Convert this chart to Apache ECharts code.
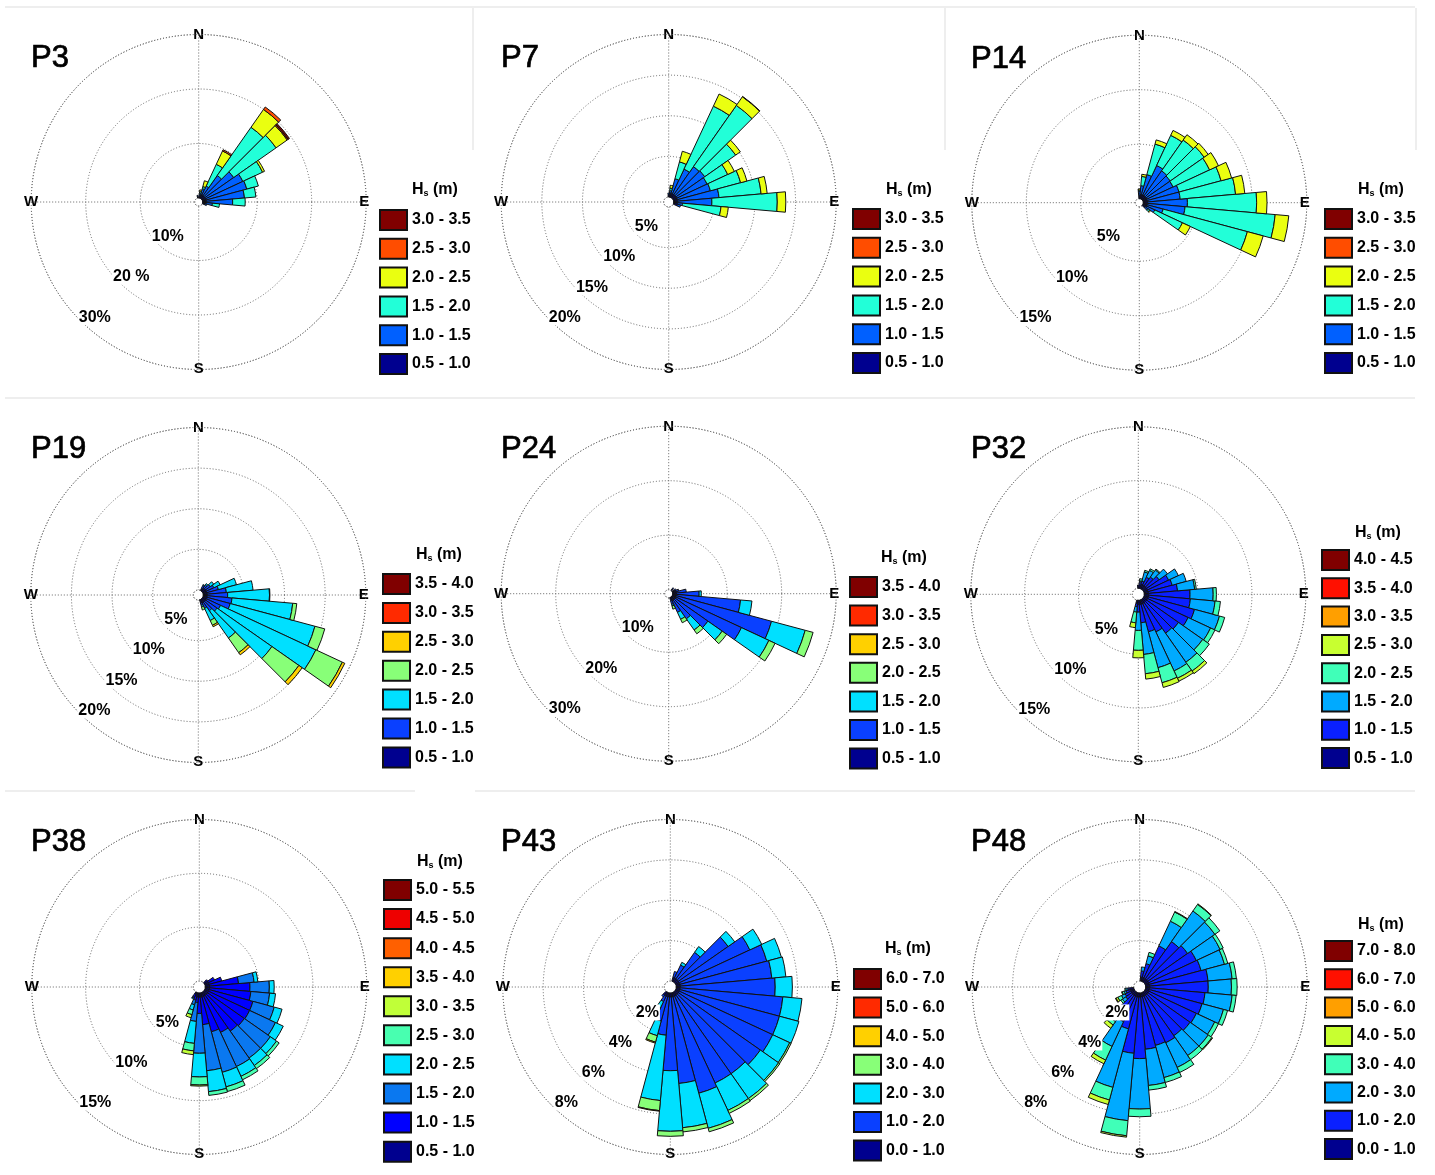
<!DOCTYPE html>
<html>
<head>
<meta charset="utf-8">
<title>Wave roses</title>
<script src="https://cdn.jsdelivr.net/npm/echarts@6/dist/echarts.min.js"></script>
<style>
html, body { margin: 0; padding: 0; background: #fff; }
#main { width: 1435px; height: 1175px; }
</style>
</head>
<body>
<div id="main"></div>
<script>
// 36 direction bins, clockwise from north
var directions = ['0','10','20','30','40','50','60','70','80','90','100','110','120','130','140','150','160','170',
  '180','190','200','210','220','230','240','250','260','270','280','290','300','310','320','330','340','350'];
var compass = { 0: 'N', 90: 'E', 180: 'S', 270: 'W' };

// Hs classes, lowest first
var bands05_35 = ['0.5 - 1.0','1.0 - 1.5','1.5 - 2.0','2.0 - 2.5','2.5 - 3.0','3.0 - 3.5'];
var bands05_40 = ['0.5 - 1.0','1.0 - 1.5','1.5 - 2.0','2.0 - 2.5','2.5 - 3.0','3.0 - 3.5','3.5 - 4.0'];
var bands05_45 = ['0.5 - 1.0','1.0 - 1.5','1.5 - 2.0','2.0 - 2.5','2.5 - 3.0','3.0 - 3.5','3.5 - 4.0','4.0 - 4.5'];
var bands05_55 = ['0.5 - 1.0','1.0 - 1.5','1.5 - 2.0','2.0 - 2.5','2.5 - 3.0','3.0 - 3.5','3.5 - 4.0','4.0 - 4.5','4.5 - 5.0','5.0 - 5.5'];
var bands0_7 = ['0.0 - 1.0','1.0 - 2.0','2.0 - 3.0','3.0 - 4.0','4.0 - 5.0','5.0 - 6.0','6.0 - 7.0'];
var bands0_8 = ['0.0 - 1.0','1.0 - 2.0','2.0 - 3.0','3.0 - 4.0','4.0 - 5.0','5.0 - 6.0','6.0 - 7.0','7.0 - 8.0'];

// jet style colours
var colors6 = ['#00008f','#0060ff','#22ffd8','#eaff10','#ff4d00','#800000'];
var colors7 = ['#00008f','#0a40ff','#00e0ff','#88ff78','#ffd000','#ff2a00','#800000'];
var colors8 = ['#00008f','#0a20ff','#00aaff','#40ffb8','#c8ff30','#ff9f00','#ff1000','#800000'];
var colors10 = ['#00008f','#0000ff','#0a78f0','#00e0ff','#48ffb0','#c0ff38','#ffd000','#ff6000','#ee0000','#800000'];

// ring values and their labels
var P3_ticks = [10, 20, 30];    var P3_labels = ['10%', '20 %', '30%'];
var P7_ticks = [5, 10, 15, 20]; var P7_labels = ['5%', '10%', '15%', '20%'];
var P14_ticks = [5, 10, 15];    var P14_labels = ['5%', '10%', '15%'];
var P19_ticks = [5, 10, 15, 20]; var P19_labels = ['5%', '10%', '15%', '20%'];
var P24_ticks = [10, 20, 30];   var P24_labels = ['10%', '20%', '30%'];
var P32_ticks = [5, 10, 15];    var P32_labels = ['5%', '10%', '15%'];
var P38_ticks = [5, 10, 15];    var P38_labels = ['5%', '10%', '15%'];
var P43_ticks = [2, 4, 6, 8];   var P43_labels = ['2%', '4%', '6%', '8%'];
var P48_ticks = [2, 4, 6, 8];   var P48_labels = ['2%', '4%', '6%', '8%'];

// each row: direction, then % of time in each Hs class, lowest first
var P3_rows = [
  [350, .3, .2],
  [10, .5, .4, .3, .3],
  [20, .7, 1.1, .4, 1.1],
  [30, .7, 1.8, 4.4, 2.7, .25],
  [40, .7, 4.5, 10.8, 4, .55],
  [50, .7, 6.4, 9.5, 2.5, .2, .3],
  [60, .7, 7.5, 4, .4],
  [70, .7, 7.7, 2.2],
  [80, .7, 7, 2.1],
  [90, .7, 4.8, 2.3],
  [100, .6, 1.2, 1.3],
  [110, .5, .3]
];
var P7_rows = [
  [0, .3, .2],
  [10, .5, .3, .3, .35],
  [20, .5, 1.85, 2.15, 1.35],
  [30, .5, 3.35, 8.55, 1.65],
  [40, .5, 4.2, 9.2, 1.3, .05],
  [50, .5, 4.3, 4.65, .7],
  [60, .5, 4.1, 2.8, .9],
  [70, .5, 4.2, 3.85, .8],
  [80, .5, 5.1, 5.2, .75],
  [90, .5, 4.2, 8.05, 1.05],
  [100, .5, .6, 4.75, .9],
  [110, .5, .4]
];
var P14_rows = [
  [0, .3, .4, .1, .1],
  [10, .4, .8, .85, .2],
  [20, .4, 1.9, 2.9, .4],
  [30, .4, 3, 3.05, .5],
  [40, .4, 2.8, 3.45, .6],
  [50, .4, 2.7, 3.8, .45],
  [60, .4, 2.65, 3.7, .9],
  [70, .4, 3, 4, 1],
  [80, .4, 3, 5.1, .85],
  [90, .4, 3.65, 6.35, .95],
  [100, .4, 3.45, 8.3, 1.25],
  [110, .4, 1.5, 8, 1.5],
  [120, .4, .8, 2.8, .8],
  [130, .3, .3, .2, .1]
];
var P19_rows = [
  [30, .3, .4, .1],
  [40, .4, .5, .2],
  [50, .5, .7, .5],
  [60, .5, 1, .85],
  [70, .5, 1.45, 2.3],
  [80, .5, 2.35, 3.3],
  [90, .5, 2.5, 5.15, .05],
  [100, .5, 3.05, 7.5, .5],
  [110, .5, 2.95, 10.8, 1.25],
  [120, .5, 1.9, 12.95, 3.6, .33],
  [130, .5, 1.7, 8.25, 4.05, .5],
  [140, .5, 1.25, 4.1, 2.2, .33],
  [150, .5, .7, 1.65, .65, .2],
  [160, .4, .3, .2, .4]
];
var P24_rows = [
  [40, .4, .2],
  [60, .5, .3],
  [70, .6, .6],
  [80, .7, 1.8],
  [90, .7, 4.15, .4],
  [100, .7, 11.8, 2.1],
  [110, .7, 18.1, 6.4, 1.5],
  [120, .7, 13.3, 5.55, 1.25],
  [130, .7, 7.35, 3.2, 1],
  [140, .7, 4.2, 2.5, .85],
  [150, .7, 2.35, 1.4, .7],
  [160, .6, .7, .3, .6]
];
var P32_rows = [
  [0, .2, .1],
  [10, .3, .3, .1, .2],
  [20, .4, .3, .9, .15],
  [30, .4, .8, .7, .15],
  [40, .4, 1, .8, .1],
  [50, .4, 1.4, .95],
  [60, .4, 2.15, 1],
  [70, .4, 2.3, 1.35],
  [80, .4, 2.7, 1.6, .15],
  [90, .4, 3.85, 2.15, .3],
  [100, .4, 3.9, 2.3, .5],
  [110, .4, 4.45, 2.4, .5],
  [120, .4, 4.15, 2.3, .45],
  [130, .4, 3.6, 2.75, .75],
  [140, .4, 3.45, 3.3, 1, .3],
  [150, .4, 2.9, 4, .75, .3],
  [160, .4, 2.65, 3.45, 1.45, .45],
  [170, .4, 1.7, 2.95, 1.8, .5],
  [180, .4, .7, 1.7, 1.85, .7],
  [190, .3, .3, .5, 1, .45]
];
var P38_rows = [
  [50, .3, .1],
  [60, .4, .6],
  [70, .4, 1.2],
  [80, .4, 2.7, 1.45, .35],
  [90, .4, 3.75, 1.8, .45],
  [100, .4, 3.85, 1.75, .55],
  [110, .4, 4.2, 2.05, .75],
  [120, .4, 4.2, 2.65, .8],
  [130, .4, 4.15, 2.95, .7, .3],
  [140, .4, 4.05, 3.05, .85, .35],
  [150, .4, 3.7, 3.5, 1, .35],
  [160, .4, 3.35, 3.9, 1.4, .45],
  [170, .4, 2.55, 4.3, 1.95, .35],
  [180, .4, 1.5, 3.7, 2.2, .75, .1],
  [190, .4, .5, 1.75, 2.05, .7, .35],
  [200, .3, .4, .45, .5, .45, .3],
  [210, .2, .3, .1, .1]
];
var P43_rows = [
  [20, .2, .3],
  [30, .2, .7, .15],
  [40, .2, 1.6, .35],
  [50, .2, 3, .4],
  [60, .2, 3.85, .65],
  [70, .2, 4.45, .75],
  [80, .2, 4.55, .7],
  [90, .2, 4.7, .85],
  [100, .2, 5.1, .95],
  [110, .2, 5.1, 1],
  [120, .2, 5.1, .93, .08],
  [130, .2, 4.95, 1.1, .08],
  [140, .2, 4.75, 1.5, .13],
  [150, .2, 4.75, 1.5, .16],
  [160, .2, 4.95, 1.8, .18],
  [170, .2, 4.3, 2.2, .21],
  [180, .2, 3.65, 3, .25],
  [190, .2, 1.9, 3.25, .5, .03],
  [200, .2, 1.25, .75, .33, .05],
  [210, .2, .3, .35, .25],
  [220, .2, .1]
];
var P48_rows = [
  [10, .2, .3, .2],
  [20, .2, .7, .4, .18],
  [30, .2, 1.75, 1.35, .5, .03],
  [40, .2, 2.25, 1.85, .4, .03],
  [50, .2, 2.4, 1.65, .3],
  [60, .2, 2.6, 1.3, .17],
  [70, .2, 2.65, 1.2, .17],
  [80, .2, 2.9, 1.2, .21],
  [90, .2, 2.9, 1.15, .28],
  [100, .2, 2.75, 1.35, .2],
  [110, .2, 2.7, 1.1, .21],
  [120, .2, 2.6, 1, .21],
  [130, .2, 2.55, 1.1, .22, .04],
  [140, .2, 2.45, 1.2, .25],
  [150, .2, 2.55, 1.35, .28],
  [160, .2, 2.5, 1.65, .25],
  [170, .2, 2.6, 1.8, .23],
  [180, .2, 3.05, 2.5, .38],
  [190, .2, 2.8, 3.35, .75, .07],
  [200, .2, 1.65, 3, .65, .23],
  [210, .2, 1.4, 1.35, .75, .2],
  [220, .2, .75, .85, .2, .2],
  [230, .2, .35, .2, .1],
  [240, .2, .3, .2, .2, .1, .03],
  [250, .2, .2, .1, .1, .03],
  [260, .2, .1, .1, .05]
];

var font = '"Liberation Sans", Arial, sans-serif';

// layout of the nine roses, positions in px
var panels = [
  { name: 'P3',  cx: 198.7, cy: 202,  r: 167.5, hole: 4, max: 30, ticks: P3_ticks,  labels: P3_labels,  rows: P3_rows,  bands: bands05_35, colors: colors6,  titleX: 31,  titleY: 43,  legX: 379, legY: 209, legGap: 28.8, hsX: 412, hsY: 181 },
  { name: 'P7',  cx: 668.7, cy: 202,  r: 167.5, hole: 5, max: 20, ticks: P7_ticks,  labels: P7_labels,  rows: P7_rows,  bands: bands05_35, colors: colors6,  titleX: 501, titleY: 43,  legX: 852, legY: 208, legGap: 28.8, hsX: 886, hsY: 181 },
  { name: 'P14', cx: 1139.3, cy: 202.7, r: 167.5, hole: 4, max: 15, ticks: P14_ticks, labels: P14_labels, rows: P14_rows, bands: bands05_35, colors: colors6,  titleX: 971, titleY: 44,  legX: 1324, legY: 208, legGap: 28.8, hsX: 1358, hsY: 181 },
  { name: 'P19', cx: 198.3, cy: 595,  r: 167.5, hole: 5, max: 20, ticks: P19_ticks, labels: P19_labels, rows: P19_rows, bands: bands05_40, colors: colors7,  titleX: 31,  titleY: 434, legX: 382, legY: 573, legGap: 28.9, hsX: 416, hsY: 546 },
  { name: 'P24', cx: 668.7, cy: 593.7, r: 167.5, hole: 4, max: 30, ticks: P24_ticks, labels: P24_labels, rows: P24_rows, bands: bands05_40, colors: colors7,  titleX: 501, titleY: 434, legX: 849, legY: 576, legGap: 28.6, hsX: 881, hsY: 549 },
  { name: 'P32', cx: 1138.3, cy: 594.3, r: 167.5, hole: 6, max: 15, ticks: P32_ticks, labels: P32_labels, rows: P32_rows, bands: bands05_45, colors: colors8,  titleX: 971, titleY: 434, legX: 1321, legY: 549, legGap: 28.3, hsX: 1355, hsY: 524 },
  { name: 'P38', cx: 199.3, cy: 987,  r: 167.5, hole: 6, max: 15, ticks: P38_ticks, labels: P38_labels, rows: P38_rows, bands: bands05_55, colors: colors10, titleX: 31,  titleY: 827, legX: 383, legY: 879, legGap: 29.07, hsX: 417, hsY: 853 },
  { name: 'P43', cx: 670.3, cy: 987,  r: 167.5, hole: 6, max: 8,  ticks: P43_ticks, labels: P43_labels, rows: P43_rows, bands: bands0_7,  colors: colors7,  titleX: 501, titleY: 827, legX: 853, legY: 968, legGap: 28.6, hsX: 885, hsY: 940 },
  { name: 'P48', cx: 1139.7, cy: 987, r: 167.5, hole: 6, max: 8,  ticks: P48_ticks, labels: P48_labels, rows: P48_rows, bands: bands0_8,  colors: colors8,  titleX: 971, titleY: 827, legX: 1324, legY: 940, legGap: 28.3, hsX: 1358, hsY: 916 }
];

var polar = [], radiusAxis = [], angleAxis = [], series = [], legend = [], title = [];
var gridLine = { color: '#666', type: [1, 2], width: 1 };

panels.forEach(function (p, i) {
  var gridIndex = i * 2, barIndex = i * 2 + 1;
  var center = [p.cx, p.cy];

  // rings, spokes and compass letters
  polar.push({ center: center, radius: [p.hole, p.r] });
  radiusAxis.push({
    polarIndex: gridIndex, type: 'value', min: 0, max: p.max, interval: p.ticks[0],
    axisLine: { show: false }, axisTick: { show: false }, axisLabel: { show: false },
    splitLine: { show: true, lineStyle: gridLine }
  });
  angleAxis.push({
    polarIndex: gridIndex, type: 'value', min: 0, max: 360, interval: 90, startAngle: 90, clockwise: true,
    axisLine: { show: true, lineStyle: gridLine },
    axisTick: { show: false },
    splitLine: { show: true, lineStyle: gridLine },
    axisLabel: {
      show: true, margin: -8, color: '#000', fontFamily: font, fontWeight: 'bold', fontSize: 15,
      backgroundColor: '#fff', padding: [0, 1],
      formatter: function (v) { return compass[v] || ''; }
    }
  });

  // the bars get their own polar, bins centred on the directions
  polar.push({ center: center, radius: [p.hole, p.r] });
  radiusAxis.push({ polarIndex: barIndex, type: 'value', min: 0, max: p.max, show: false });
  angleAxis.push({ polarIndex: barIndex, type: 'category', data: directions, startAngle: 95, clockwise: true, show: false });

  var legendNames = [];
  p.bands.forEach(function (band, b) {
    var values = directions.map(function () { return null; });
    p.rows.forEach(function (row) {
      if (row[b + 1]) values[directions.indexOf(String(row[0]))] = row[b + 1];
    });
    var name = p.name + '|' + band;
    legendNames.unshift(name);
    series.push({
      name: name, type: 'bar', coordinateSystem: 'polar', polarIndex: barIndex, stack: p.name,
      barCategoryGap: '0%', z: 3, data: values, silent: true,
      itemStyle: { color: p.colors[b], borderColor: '#111', borderWidth: 1 }
    });
  });

  legend.push({
    orient: 'vertical', left: p.legX, top: p.legY, padding: 0, selectedMode: false,
    itemWidth: 27, itemHeight: 20, itemGap: p.legGap - 22, icon: 'rect',
    data: legendNames,
    textStyle: { color: '#000', fontFamily: font, fontWeight: 'bold', fontSize: 16 },
    formatter: function (n) { return n.split('|')[1]; }
  });

  // percent labels sit just inside their ring, towards the south west
  series.push({
    type: 'scatter', coordinateSystem: 'polar', polarIndex: gridIndex, z: 6, silent: true,
    symbolSize: 1, itemStyle: { color: 'transparent', opacity: 1 },
    data: p.ticks.map(function (t, k) {
      return { value: [t - p.max * 0.075, 222], label: { formatter: p.labels[k] } };
    }),
    label: {
      show: true, position: 'inside', color: '#000', fontFamily: font, fontWeight: 'bold', fontSize: 16,
      textBorderWidth: 0, backgroundColor: '#fff', padding: [0, 1]
    }
  });

  title.push({
    text: p.name, left: p.titleX, top: p.titleY, padding: 0,
    textStyle: { color: '#000', fontFamily: font, fontWeight: 'normal', fontSize: 31, textBorderColor: '#000', textBorderWidth: 0.7 }
  });
  title.push({
    text: '{h|H}{s|s}{h| (m)}', left: p.hsX, top: p.hsY, padding: 0,
    textStyle: {
      rich: {
        h: { color: '#000', fontFamily: font, fontWeight: 'bold', fontSize: 16 },
        s: { color: '#000', fontFamily: font, fontWeight: 'bold', fontSize: 9, padding: [8, 0, 0, 0] }
      }
    }
  });
});

// faint seams of the pasted panels
var seamStyle = { stroke: '#eeeeee', lineWidth: 2 };
var seams = [[5, 7, 1415, 7], [5, 398, 1415, 398], [5, 791, 415, 791], [475, 791, 1415, 791], [473, 8, 473, 150], [945, 8, 945, 150], [1416, 8, 1416, 150]];

var myChart = echarts.init(document.getElementById('main'));
myChart.setOption({
  backgroundColor: '#fff',
  animation: false,
  title: title,
  legend: legend,
  polar: polar,
  radiusAxis: radiusAxis,
  angleAxis: angleAxis,
  series: series,
  graphic: seams.map(function (s) {
    return { type: 'line', silent: true, z: -1, shape: { x1: s[0], y1: s[1], x2: s[2], y2: s[3] }, style: seamStyle };
  })
});
</script>
</body>
</html>
